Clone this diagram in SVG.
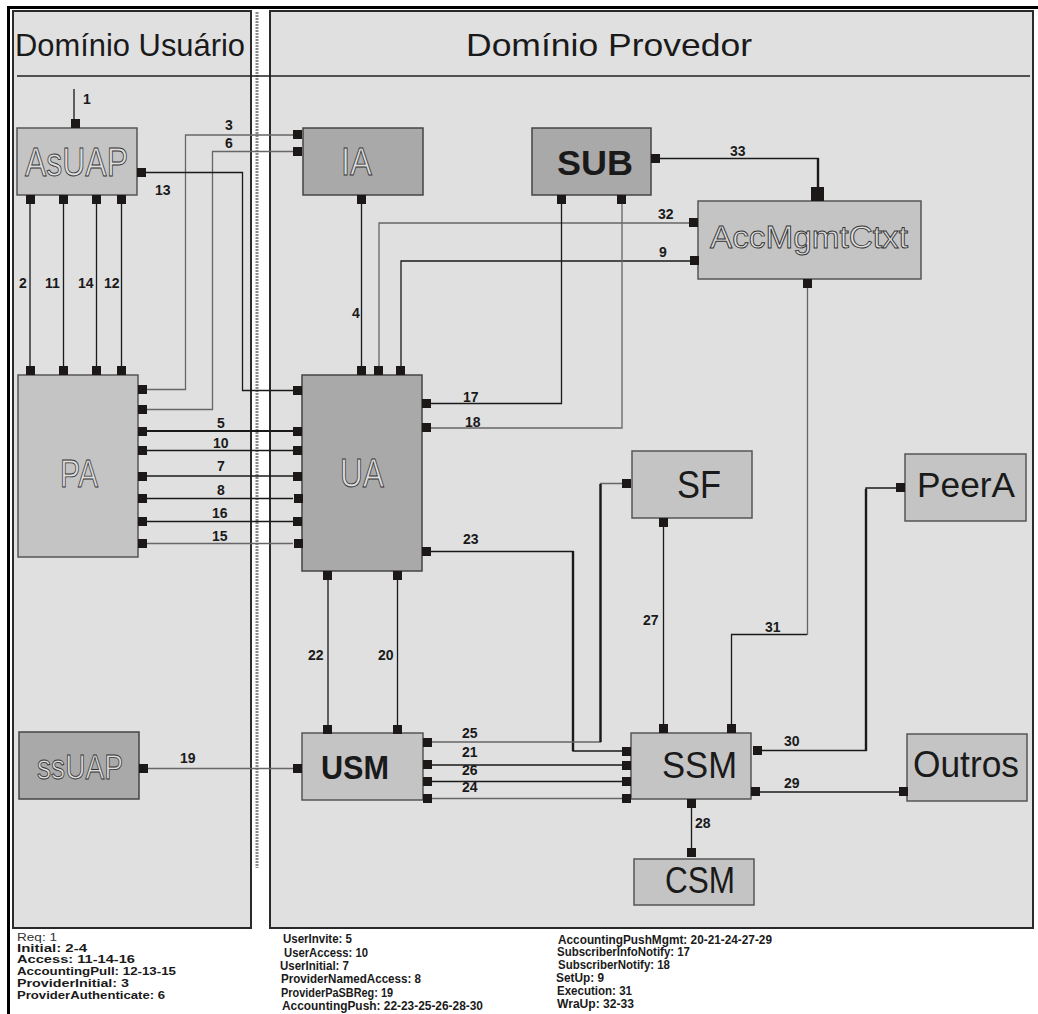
<svg xmlns="http://www.w3.org/2000/svg" width="1038" height="1014" viewBox="0 0 1038 1014">
<style>
.panel{fill:#e0e0e0;stroke:#2a2a2a;stroke-width:2}
.nl{fill:#c4c4c4;stroke:#555;stroke-width:1.5}
.nd{fill:#a9a9a9;stroke:#444;stroke-width:1.5}
.ol{font-family:"Liberation Sans",Arial,sans-serif;fill:#dedede;stroke:#333;stroke-width:0.9}
.tb{font-family:"Liberation Sans",Arial,sans-serif;fill:#1a1a1a}
.title{font-family:"Liberation Sans",Arial,sans-serif;font-size:32px;fill:#1a1a1a}
.num{font-family:"Liberation Sans",Arial,sans-serif;font-size:14px;font-weight:bold;fill:#1a1a1a}
.leg{font-family:"Liberation Sans",Arial,sans-serif;font-size:12.5px;font-weight:bold;fill:#1a1a1a}
.leg1{font-family:"Liberation Sans",Arial,sans-serif;font-size:10px;font-weight:bold;fill:#1a1a1a}
.pt{fill:#1c1818}
#connectors path,#connectors line{fill:none;stroke:#1a1a1a;stroke-width:1.3}
#connectors .g{stroke:#666}
#connectors .t{stroke-width:2.4}
</style>

<rect x="0" y="0" width="1038" height="1014" fill="#ffffff"/>

<g id="frame">
  <rect class="panel" x="13" y="11" width="238" height="917"/>
  <rect class="panel" x="270" y="11" width="763" height="917" stroke-width="2.5"/>
  <line x1="7" y1="7.5" x2="1038" y2="7.5" stroke="#000" stroke-width="3"/>
  <line x1="8.5" y1="6" x2="8.5" y2="1014" stroke="#000" stroke-width="3"/>
  <line x1="257" y1="12" x2="257" y2="868" stroke="#8a8a8a" stroke-width="3" stroke-dasharray="2 1"/>
  <line x1="17" y1="76" x2="1030" y2="76" stroke="#222" stroke-width="1.3"/>
  <text class="title" x="15" y="56" textLength="230" lengthAdjust="spacingAndGlyphs">Domínio Usuário</text>
  <text class="title" x="466" y="56" textLength="286" lengthAdjust="spacingAndGlyphs">Domínio Provedor</text>
</g>

<g id="connectors">
  <line x1="74" y1="89" x2="74" y2="120"/>
  <line x1="30" y1="204" x2="30" y2="366"/>
  <line x1="63.5" y1="204" x2="63.5" y2="366"/>
  <line x1="96.5" y1="204" x2="96.5" y2="366"/>
  <line x1="121.5" y1="204" x2="121.5" y2="366"/>
  <path class="g" d="M147 389.5 H185.5 V135 H293"/>
  <path class="g" d="M147 409.5 H212.5 V151.5 H293"/>
  <path d="M146 172.5 H242.5 V390.5 H293"/>
  <line x1="361.5" y1="204" x2="361.5" y2="366"/>
  <path d="M660 158.5 H818 V187"/>
  <line class="t" x1="818" y1="158" x2="818" y2="188"/>
  <path class="g" d="M689 223 H379 V366"/>
  <path d="M690 261 H401 V366"/>
  <path d="M431 403.5 H561.5 V204"/>
  <path class="g" d="M431 428 H622 V204"/>
  <line class="t" x1="147" y1="431" x2="293" y2="431" style="stroke-width:2"/>
  <line x1="147" y1="450.5" x2="293" y2="450.5"/>
  <line x1="147" y1="476" x2="293" y2="476"/>
  <line x1="147" y1="498.5" x2="293" y2="498.5"/>
  <line x1="147" y1="521.5" x2="293" y2="521.5"/>
  <line class="g" x1="147" y1="543.5" x2="293" y2="543.5"/>
  <path d="M431 551.5 H573 V751 H622"/>
  <line class="t" x1="573" y1="551" x2="573" y2="751"/>
  <path class="g" d="M432 742 H600.5 V483.5 H622"/>
  <line class="t" x1="600.5" y1="484" x2="600.5" y2="742"/>
  <line x1="432" y1="765" x2="622" y2="765"/>
  <line x1="432" y1="781.5" x2="622" y2="781.5"/>
  <line class="g" x1="432" y1="798.5" x2="622" y2="798.5"/>
  <line x1="328" y1="579" x2="328" y2="725"/>
  <line x1="397.5" y1="579" x2="397.5" y2="725"/>
  <line class="g" x1="148" y1="768.5" x2="293" y2="768.5"/>
  <line x1="663.5" y1="527" x2="663.5" y2="724"/>
  <path d="M731.5 724 V634.5 H807"/>
  <line class="g" x1="807.5" y1="288" x2="807.5" y2="635"/>
  <path d="M762 750.5 H866 V488 H896"/>
  <line class="t" x1="866" y1="489" x2="866" y2="751"/>
  <line x1="760" y1="792" x2="899" y2="792"/>
  <line x1="691.5" y1="808" x2="691.5" y2="848"/>
</g>

<g id="labels">
  <text class="num" x="83" y="104">1</text>
  <text class="num" x="19" y="288">2</text>
  <text class="num" x="45" y="288">11</text>
  <text class="num" x="78" y="288">14</text>
  <text class="num" x="104" y="288">12</text>
  <text class="num" x="225" y="130">3</text>
  <text class="num" x="225" y="148">6</text>
  <text class="num" x="155" y="195">13</text>
  <text class="num" x="352" y="318">4</text>
  <text class="num" x="730" y="156">33</text>
  <text class="num" x="658" y="219">32</text>
  <text class="num" x="659" y="257">9</text>
  <text class="num" x="463" y="402">17</text>
  <text class="num" x="465" y="427">18</text>
  <text class="num" x="463" y="544">23</text>
  <text class="num" x="217" y="428">5</text>
  <text class="num" x="213" y="448">10</text>
  <text class="num" x="217" y="471">7</text>
  <text class="num" x="217" y="495">8</text>
  <text class="num" x="212" y="518">16</text>
  <text class="num" x="212" y="541">15</text>
  <text class="num" x="180" y="763">19</text>
  <text class="num" x="308" y="660">22</text>
  <text class="num" x="378" y="660">20</text>
  <text class="num" x="643" y="625">27</text>
  <text class="num" x="765" y="632">31</text>
  <text class="num" x="784" y="746">30</text>
  <text class="num" x="784" y="788">29</text>
  <text class="num" x="695" y="828">28</text>
  <text class="num" x="462" y="738">25</text>
  <text class="num" x="462" y="757">21</text>
  <text class="num" x="462" y="775">26</text>
  <text class="num" x="462" y="792">24</text>
</g>

<g id="AsUAP">
  <rect class="nl" x="17" y="128" width="120" height="67"/>
  <text class="ol" x="25" y="176" font-size="40" textLength="103" lengthAdjust="spacingAndGlyphs">AsUAP</text>
  <rect class="pt" x="71" y="119" width="9" height="9"/>
  <rect class="pt" x="137" y="168" width="9" height="9"/>
  <rect class="pt" x="26" y="195" width="9" height="9"/>
  <rect class="pt" x="59" y="195" width="9" height="9"/>
  <rect class="pt" x="92" y="195" width="9" height="9"/>
  <rect class="pt" x="117" y="195" width="9" height="9"/>
</g>

<g id="PA">
  <rect class="nl" x="18" y="375" width="120" height="182"/>
  <text class="ol" x="60" y="487" font-size="39" textLength="38" lengthAdjust="spacingAndGlyphs">PA</text>
  <rect class="pt" x="26" y="366" width="9" height="9"/>
  <rect class="pt" x="59" y="366" width="9" height="9"/>
  <rect class="pt" x="92" y="366" width="9" height="9"/>
  <rect class="pt" x="117" y="366" width="9" height="9"/>
  <rect class="pt" x="138" y="385" width="9" height="9"/>
  <rect class="pt" x="138" y="405" width="9" height="9"/>
  <rect class="pt" x="138" y="427" width="9" height="9"/>
  <rect class="pt" x="138" y="446" width="9" height="9"/>
  <rect class="pt" x="138" y="472" width="9" height="9"/>
  <rect class="pt" x="138" y="494" width="9" height="9"/>
  <rect class="pt" x="138" y="517" width="9" height="9"/>
  <rect class="pt" x="138" y="539" width="9" height="9"/>
</g>

<g id="ssUAP">
  <rect class="nd" x="19" y="732" width="120" height="67"/>
  <text class="ol" x="37" y="779" font-size="35" textLength="86" lengthAdjust="spacingAndGlyphs">ssUAP</text>
  <rect class="pt" x="139" y="764" width="9" height="9"/>
</g>

<g id="IA">
  <rect class="nd" x="303" y="128" width="120" height="67"/>
  <text class="ol" x="341" y="175" font-size="38" textLength="31" lengthAdjust="spacingAndGlyphs">IA</text>
  <rect class="pt" x="293" y="130" width="9" height="9"/>
  <rect class="pt" x="293" y="147" width="9" height="9"/>
  <rect class="pt" x="357" y="195" width="9" height="9"/>
</g>

<g id="SUB">
  <rect class="nd" x="532" y="128" width="119" height="67"/>
  <text class="tb" x="557" y="175" font-size="35" font-weight="bold" textLength="76" lengthAdjust="spacingAndGlyphs">SUB</text>
  <rect class="pt" x="651" y="154" width="9" height="9"/>
  <rect class="pt" x="557" y="195" width="9" height="9"/>
  <rect class="pt" x="617" y="195" width="9" height="9"/>
</g>

<g id="AccMgmtCtxt">
  <rect class="nl" x="698" y="201" width="223" height="78"/>
  <text class="ol" x="710" y="248" font-size="32" textLength="198" lengthAdjust="spacingAndGlyphs">AccMgmtCtxt</text>
  <rect class="pt" x="811" y="187" width="13" height="14"/>
  <rect class="pt" x="689" y="218" width="9" height="9"/>
  <rect class="pt" x="690" y="256" width="9" height="9"/>
  <rect class="pt" x="803" y="279" width="9" height="9"/>
</g>

<g id="UA">
  <rect class="nd" x="302" y="375" width="120" height="196"/>
  <text class="ol" x="340" y="487" font-size="40" textLength="44" lengthAdjust="spacingAndGlyphs">UA</text>
  <rect class="pt" x="357" y="366" width="9" height="9"/>
  <rect class="pt" x="374" y="366" width="9" height="9"/>
  <rect class="pt" x="396" y="366" width="9" height="9"/>
  <rect class="pt" x="293" y="386" width="9" height="9"/>
  <rect class="pt" x="293" y="427" width="9" height="9"/>
  <rect class="pt" x="293" y="446" width="9" height="9"/>
  <rect class="pt" x="293" y="472" width="9" height="9"/>
  <rect class="pt" x="294" y="494" width="9" height="9"/>
  <rect class="pt" x="293" y="517" width="9" height="9"/>
  <rect class="pt" x="294" y="539" width="9" height="9"/>
  <rect class="pt" x="422" y="399" width="9" height="9"/>
  <rect class="pt" x="422" y="423" width="9" height="9"/>
  <rect class="pt" x="422" y="547" width="9" height="9"/>
  <rect class="pt" x="323" y="571" width="9" height="9"/>
  <rect class="pt" x="393" y="571" width="9" height="9"/>
</g>

<g id="SF">
  <rect class="nl" x="632" y="451" width="120" height="67"/>
  <text class="tb" x="677" y="498" font-size="38" textLength="44" lengthAdjust="spacingAndGlyphs">SF</text>
  <rect class="pt" x="622" y="479" width="9" height="9"/>
  <rect class="pt" x="659" y="518" width="9" height="9"/>
</g>

<g id="PeerA">
  <rect class="nl" x="905" y="454" width="121" height="67"/>
  <text class="tb" x="917" y="497" font-size="35" textLength="98" lengthAdjust="spacingAndGlyphs">PeerA</text>
  <rect class="pt" x="896" y="483" width="9" height="9"/>
</g>

<g id="USM">
  <rect class="nl" x="302" y="733" width="121" height="67"/>
  <text class="tb" x="321" y="779" font-size="34" font-weight="bold" textLength="68" lengthAdjust="spacingAndGlyphs">USM</text>
  <rect class="pt" x="293" y="764" width="9" height="9"/>
  <rect class="pt" x="323" y="725" width="9" height="9"/>
  <rect class="pt" x="393" y="725" width="9" height="9"/>
  <rect class="pt" x="423" y="738" width="9" height="9"/>
  <rect class="pt" x="423" y="760" width="9" height="9"/>
  <rect class="pt" x="423" y="777" width="9" height="9"/>
  <rect class="pt" x="423" y="794" width="9" height="9"/>
</g>

<g id="SSM">
  <rect class="nl" x="631" y="733" width="120" height="66"/>
  <text class="tb" x="662" y="778" font-size="37" textLength="75" lengthAdjust="spacingAndGlyphs">SSM</text>
  <rect class="pt" x="659" y="724" width="9" height="9"/>
  <rect class="pt" x="727" y="724" width="9" height="9"/>
  <rect class="pt" x="622" y="747" width="9" height="9"/>
  <rect class="pt" x="622" y="761" width="9" height="9"/>
  <rect class="pt" x="622" y="777" width="9" height="9"/>
  <rect class="pt" x="622" y="794" width="9" height="9"/>
  <rect class="pt" x="753" y="746" width="9" height="9"/>
  <rect class="pt" x="751" y="787" width="9" height="9"/>
  <rect class="pt" x="687" y="799" width="9" height="9"/>
</g>

<g id="Outros">
  <rect class="nl" x="907" y="734" width="120" height="67"/>
  <text class="tb" x="913" y="777" font-size="36" textLength="106" lengthAdjust="spacingAndGlyphs">Outros</text>
  <rect class="pt" x="899" y="787" width="9" height="9"/>
</g>

<g id="CSM">
  <rect class="nl" x="634" y="859" width="120" height="46"/>
  <text class="tb" x="665" y="893" font-size="36" textLength="70" lengthAdjust="spacingAndGlyphs">CSM</text>
  <rect class="pt" x="687" y="848" width="9" height="9"/>
</g>

<g id="legend">
  <text class="leg1" x="17" y="941" style="font-weight:normal;fill:#333" textLength="40" lengthAdjust="spacingAndGlyphs">Req: 1</text>
  <text class="leg1" x="17" y="952" textLength="70" lengthAdjust="spacingAndGlyphs">Initial: 2-4</text>
  <text class="leg1" x="17" y="963" textLength="118" lengthAdjust="spacingAndGlyphs">Access: 11-14-16</text>
  <text class="leg1" x="17" y="975" textLength="159" lengthAdjust="spacingAndGlyphs">AccountingPull: 12-13-15</text>
  <text class="leg1" x="17" y="987" textLength="112" lengthAdjust="spacingAndGlyphs">ProviderInitial: 3</text>
  <text class="leg1" x="17" y="999" textLength="148" lengthAdjust="spacingAndGlyphs">ProviderAuthenticate: 6</text>

  <text class="leg" x="283" y="943" textLength="69" lengthAdjust="spacingAndGlyphs">UserInvite: 5</text>
  <text class="leg" x="284" y="957" textLength="84" lengthAdjust="spacingAndGlyphs">UserAccess: 10</text>
  <text class="leg" x="280" y="970" textLength="69" lengthAdjust="spacingAndGlyphs">UserInitial: 7</text>
  <text class="leg" x="281" y="983" textLength="140" lengthAdjust="spacingAndGlyphs">ProviderNamedAccess: 8</text>
  <text class="leg" x="281" y="997" textLength="112" lengthAdjust="spacingAndGlyphs">ProviderPaSBReg: 19</text>
  <text class="leg" x="282" y="1010" textLength="201" lengthAdjust="spacingAndGlyphs">AccountingPush: 22-23-25-26-28-30</text>

  <text class="leg" x="558" y="944" textLength="214" lengthAdjust="spacingAndGlyphs">AccountingPushMgmt: 20-21-24-27-29</text>
  <text class="leg" x="557" y="956" textLength="133" lengthAdjust="spacingAndGlyphs">SubscriberInfoNotify: 17</text>
  <text class="leg" x="558" y="969" textLength="112" lengthAdjust="spacingAndGlyphs">SubscriberNotify: 18</text>
  <text class="leg" x="556" y="982" textLength="48" lengthAdjust="spacingAndGlyphs">SetUp: 9</text>
  <text class="leg" x="557" y="995" textLength="75" lengthAdjust="spacingAndGlyphs">Execution: 31</text>
  <text class="leg" x="557" y="1008" textLength="77" lengthAdjust="spacingAndGlyphs">WraUp: 32-33</text>
</g>
</svg>
